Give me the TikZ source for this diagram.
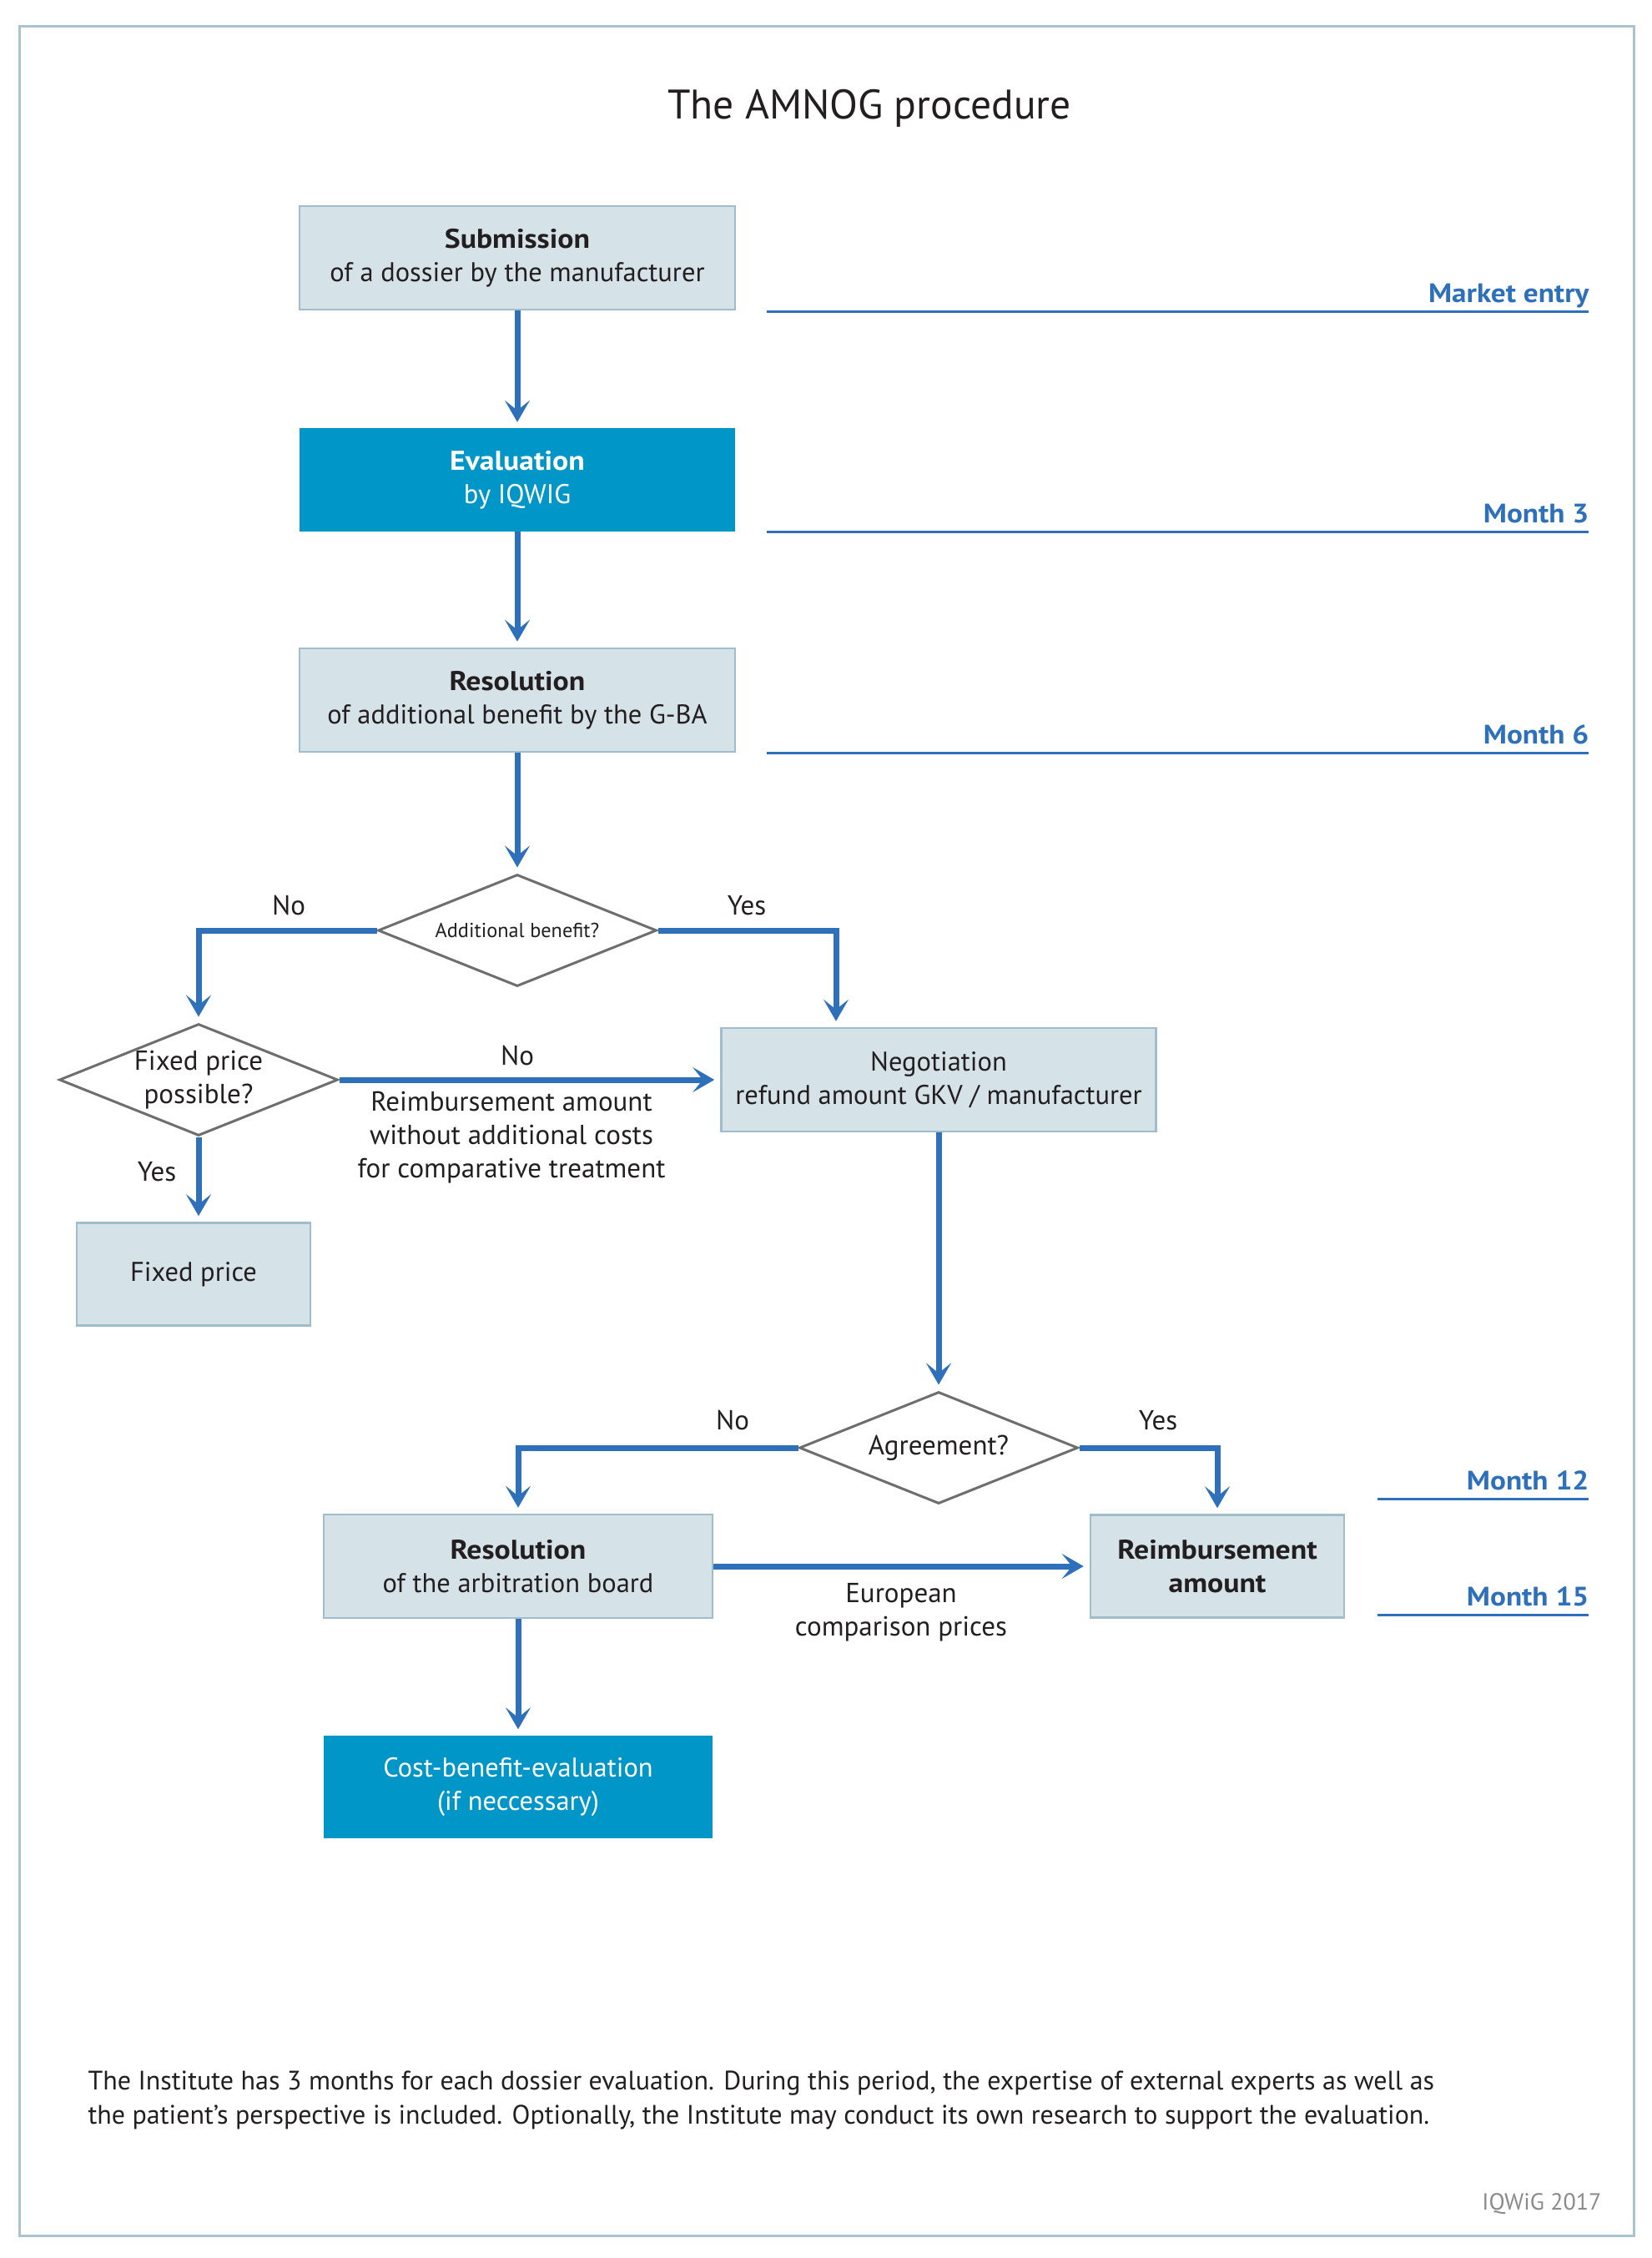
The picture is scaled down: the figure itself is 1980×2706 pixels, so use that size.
\documentclass[tikz,border=0pt]{standalone}
\usepackage{fontspec}
\setmainfont{PT Sans}[BoldFeatures={FakeStretch=1.1}]
\usepackage{tikz}
\usetikzlibrary{shapes.geometric,arrows.meta}
\definecolor{boxfill}{HTML}{D5E2E8}
\definecolor{boxline}{HTML}{9FBDCA}
\definecolor{tealfill}{HTML}{0096C7}
\definecolor{flowblue}{HTML}{2E70B9}
\definecolor{diamondgray}{HTML}{6E6E6E}
\definecolor{textdark}{HTML}{231F20}
\definecolor{framecol}{HTML}{A9C4CF}
\definecolor{footgray}{HTML}{8A8A8A}
\tikzset{
   greybox/.style={rectangle, draw=boxline, line width=2.5pt, fill=boxfill, inner sep=0pt,
                   align=center, text=textdark, font=\fontsize{32.5}{40}\selectfont},
   tealbox/.style={rectangle, fill=tealfill, inner sep=0pt,
                   align=center, text=white, font=\fontsize{32.5}{40}\selectfont},
   question/.style={diamond, draw=diamondgray, line width=3pt, fill=white, inner sep=0pt,
                   minimum width=334pt, minimum height=134pt},
   flow/.style={draw=flowblue, line width=7pt, -{Stealth[length=26pt,width=30pt,inset=12pt]},
                shorten >=7pt},
   answer/.style={text=textdark, font=\fontsize{33}{40}\selectfont, align=center},
   month/.style={draw=flowblue, line width=3pt}
}

\begin{document}
\begin{tikzpicture}[x=1pt, y=-1pt]
\useasboundingbox (0,0) rectangle (1980,2706);
\draw[framecol, line width=3pt] (23,31) rectangle (1958,2679);

\node[text=textdark, font=\fontsize{49.5}{58}\selectfont] (title) at (1042,130) {The AMNOG procedure};

% main column
\node[greybox, minimum width=522pt, minimum height=124pt] (subm) at (620,309)
   {\textbf{Submission}\\of a dossier by the manufacturer};
\node[tealbox, minimum width=522pt, minimum height=124pt] (eval) at (620,575)
   {\textbf{Evaluation}\\by IQWIG};
\node[greybox, minimum width=522pt, minimum height=124pt] (resol) at (620,839)
   {\textbf{Resolution}\\of additional benefit by the G-BA};
\node[question, label={[text=textdark, font=\fontsize{24.3}{28}\selectfont]center:Additional benefit?}] (addq) at (620,1115) {};

\node[question, label={[answer]center:Fixed price\\possible?}] (fixq) at (238,1294) {};
\node[greybox, minimum width=280pt, minimum height=123pt] (fixp) at (232,1527) {Fixed price};
\node[greybox, minimum width=521pt, minimum height=124pt] (nego) at (1125,1294)
   {Negotiation\\refund amount GKV / manufacturer};

\node[question, label={[answer]center:Agreement?}] (agrq) at (1125,1735) {};
\node[greybox, minimum width=466pt, minimum height=124pt] (arb) at (621,1877)
   {\textbf{Resolution}\\of the arbitration board};
\node[greybox, minimum width=304pt, minimum height=123pt] (reimb) at (1459,1877)
   {\textbf{Reimbursement}\\\textbf{amount}};
\node[tealbox, minimum width=466pt, minimum height=123pt] (cbe) at (621,2141)
   {Cost-benefit-evaluation\\(if neccessary)};

% connectors
\draw[flow] (subm) -- (eval);
\draw[flow] (eval) -- (resol);
\draw[flow] (resol) -- (addq);
\draw[flow] (addq.west) -| (fixq.north);
\draw[flow] (addq.east) -| ([xshift=-123pt]nego.north);
\draw[flow] (fixq.east) -- (nego.west);
\draw[flow] (fixq.south) -- (fixq.south |- fixp.north);
\draw[flow] (nego) -- (agrq);
\draw[flow] (agrq.west) -| (arb.north);
\draw[flow] (agrq.east) -| (reimb.north);
\draw[flow] (arb.east) -- (reimb.west);
\draw[flow] (arb) -- (cbe);

% answers
\node[answer, anchor=base] (no1) at (346,1096) {No};
\node[answer, anchor=base] (yes1) at (895,1096) {Yes};
\node[answer, anchor=base] (no2) at (620,1276) {No};
\node[answer] (nocost) at (613,1363) {Reimbursement amount\\without additional costs\\for comparative treatment};
\node[answer, anchor=base] (yes2) at (188,1415) {Yes};
\node[answer, anchor=base] (no3) at (878,1713) {No};
\node[answer, anchor=base] (yes3) at (1388,1713) {Yes};
\node[answer] (euro) at (1080,1932) {European\\comparison prices};

% time line
\foreach \lab/\y/\xa in {Market entry/373/919, Month 3/637/919, Month 6/902/919, Month 12/1796/1651, Month 15/1935/1651}{
   \draw[month] (\xa,\y) -- (1904,\y);
   \node[anchor=base east, text=flowblue, font=\bfseries\fontsize{32}{40}\selectfont] at (1908,\y-11) {\lab};
}

\node[anchor=base west, align=left, text=textdark, font=\fontsize{32}{41}\selectfont] (note) at (102,2545)
   {The Institute has 3 months for each dossier evaluation. During this period, the expertise of external experts as well as\\
    the patient's perspective is included. Optionally, the Institute may conduct its own research to support the evaluation.};
\node[anchor=base east, text=footgray, font=\fontsize{28}{34}\selectfont] (year) at (1923,2648) {IQWiG 2017};
\end{tikzpicture}
\end{document}
